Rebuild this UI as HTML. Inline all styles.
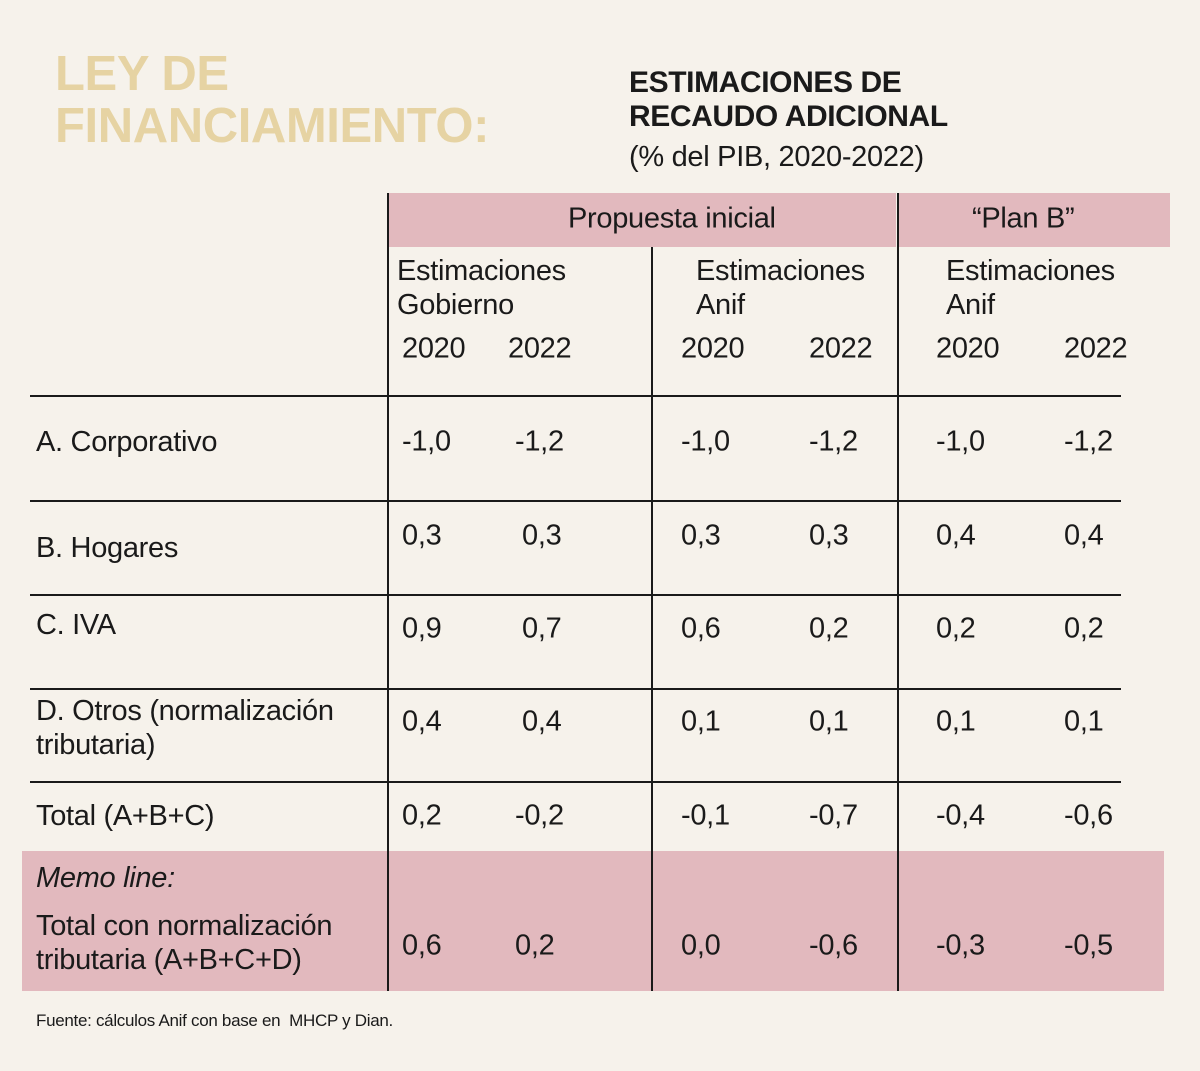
<!DOCTYPE html>
<html><head><meta charset="utf-8"><style>
body{margin:0;width:1200px;height:1071px;background:#f6f2eb;position:relative;overflow:hidden;font-family:"Liberation Sans",sans-serif;color:#1a1a1a}
.a{position:absolute;white-space:nowrap;line-height:1}
.c{transform:translateY(-50%)}
.t{font-size:29px;letter-spacing:-0.3px}
.h{position:absolute;background:#1a1a1a}
</style></head><body>
<div class="a" style="left:55px;top:48px;font-size:49px;font-weight:bold;color:#e6d3a3;line-height:52px;letter-spacing:-0.4px">LEY DE<br>FINANCIAMIENTO:</div>
<div class="a" style="left:629px;top:66px;font-size:30px;font-weight:bold;line-height:34px;letter-spacing:-0.4px">ESTIMACIONES DE<br>RECAUDO ADICIONAL</div>
<div class="a t" style="left:629px;top:143px">(% del PIB, 2020-2022)</div>

<div class="a" style="left:388px;top:193px;width:508px;height:54px;background:#e2b9be"></div>
<div class="a" style="left:898px;top:193px;width:272px;height:54px;background:#e2b9be"></div>
<div class="a" style="left:22px;top:851px;width:1142px;height:140px;background:#e2b9be"></div>

<div class="a t c" style="left:568px;top:219px">Propuesta inicial</div>
<div class="a t c" style="left:972px;top:219px">“Plan B”</div>
<div class="a t" style="left:397px;top:254px;line-height:34px">Estimaciones<br>Gobierno</div>
<div class="a t" style="left:696px;top:254px;line-height:34px">Estimaciones<br>Anif</div>
<div class="a t" style="left:946px;top:254px;line-height:34px">Estimaciones<br>Anif</div>

<div class="h" style="left:387px;top:193px;width:1.5px;height:798px"></div>
<div class="h" style="left:651px;top:247px;width:1.5px;height:744px"></div>
<div class="h" style="left:897px;top:193px;width:1.5px;height:798px"></div>

<div class="a" style="left:36px;top:1012px;font-size:17px;letter-spacing:-0.3px">Fuente: cálculos Anif con base en&nbsp; MHCP y Dian.</div>

<script>
const years=["2020","2022","2020","2022","2020","2022"];
const rowLabels=["A. Corporativo","B. Hogares","C. IVA","D. Otros (normalización<br>tributaria)","Total (A+B+C)"];
const rowA=["-1,0","-1,2","-1,0","-1,2","-1,0","-1,2"];
const rowB=["0,3","0,3","0,3","0,3","0,4","0,4"];
const rowC=["0,9","0,7","0,6","0,2","0,2","0,2"];
const rowD=["0,4","0,4","0,1","0,1","0,1","0,1"];
const rowTotal=["0,2","-0,2","-0,1","-0,7","-0,4","-0,6"];
const memoVals=["0,6","0,2","0,0","-0,6","-0,3","-0,5"];
const rows=[rowA,rowB,rowC,rowD,rowTotal];

const body=document.body;
const colX=[402,522,681,809,936,1064];
const yearX=[402,508,681,809,936,1064];
function el(cls,style,html){const d=document.createElement('div');d.className=cls;d.setAttribute('style',style);d.innerHTML=html;body.appendChild(d);return d;}
function cx(i,v){ if(i===1 && v.startsWith('-')) return 515; return colX[i]; }

years.forEach((y,i)=>{
  const d=el('a t c','left:'+yearX[i]+'px;top:349px',y);
  
  
});
const lineY=[395,500,594,688,781];
lineY.forEach((y,i)=>{
  const d=el('h','left:30px;top:'+y+'px;width:1091px;height:1.5px','');
  
  
});
const valY=[442,536,629,722,816];
const labY=[442,548,625,728,816];
rowLabels.forEach((l,r)=>{
  const d=el('a t c','left:36px;top:'+labY[r]+'px;line-height:34px',l);
  
  
  rows[r].forEach((v,i)=>{
    const c=el('a t c','left:'+cx(i,v)+'px;top:'+valY[r]+'px',v);
    
    
  });
});
const m=el('a t','left:36px;top:864px;font-style:italic','Memo line:');


const m2=el('a t','left:36px;top:909px;line-height:34px','Total con normalización<br>tributaria (A+B+C+D)');


memoVals.forEach((v,i)=>{
  const x=(i===1)?515:colX[i];
  const c=el('a t c','left:'+x+'px;top:946px',v);
  
  
});
</script>
</body></html>
